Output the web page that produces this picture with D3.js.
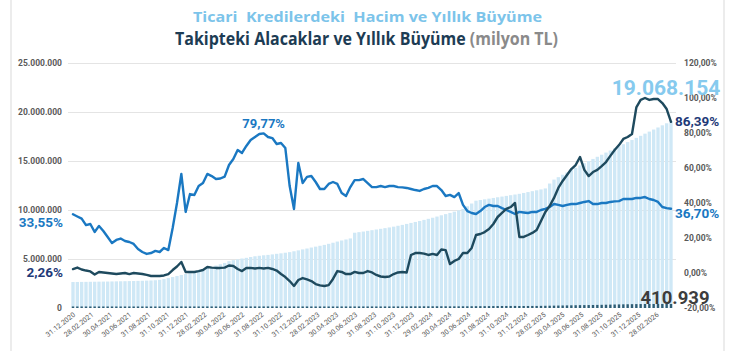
<!DOCTYPE html>
<html>
<head>
<meta charset="utf-8">
<script src="https://cdn.jsdelivr.net/npm/d3@7"></script>
<style>
  body { margin: 0; background: #fff; }
  svg { display: block; font-family: Roboto, "Liberation Sans", Arial, sans-serif; }
</style>
</head>
<body>
<svg id="chart" width="737" height="351"></svg>
<script>
// Bi-weekly observations, first one on 31.12.2020
const firstObservation = "31.12.2020";
const stepDays = 14;

// Ticari krediler hacmi (milyon TL)
const ticariHacim = [
  2650000,2655000,2662000,2668000,2675000,2680000,2688000,2694000,2700000,2710000,
  2718000,2726000,2735000,2745000,2756000,2768000,2780000,2795000,2812000,2835000,
  2870000,2950000,3050000,3160000,3270000,3370000,3480000,3600000,3720000,3840000,
  3960000,4080000,4200000,4330000,4460000,4600000,4780000,4880000,4960000,5050000,
  5120000,5200000,5280000,5330000,5380000,5420000,5470000,5530000,5580000,5640000,
  5700000,5790000,5880000,5980000,6070000,6170000,6260000,6350000,6440000,6550000,
  6660000,6780000,6890000,6990000,7100000,7680000,7740000,7800000,7870000,7940000,
  8010000,8080000,8150000,8220000,8300000,8390000,8480000,8580000,8680000,8780000,
  8880000,8990000,9100000,9210000,9330000,9460000,9580000,9700000,9830000,9960000,
  10100000,10380000,10660000,10950000,11020000,11090000,11160000,11230000,11300000,11370000,
  11440000,11510000,11580000,11650000,11740000,11830000,11920000,12010000,12100000,12200000,
  12700000,13100000,13350000,13600000,13830000,14070000,14300000,14540000,14770000,15000000,
  15210000,15430000,15640000,15860000,16070000,16290000,16500000,16710000,16930000,17140000,
  17360000,17570000,17790000,18000000,18210000,18420000,18640000,18850000,19068154
];

// Takipteki alacaklar (milyon TL)
const takipHacim = [
  158000,157500,157000,156800,156500,156000,156300,156500,156200,156000,
  155800,155600,155500,155700,155900,156000,155500,155000,154800,154600,
  154500,154700,155200,157000,160000,163000,
  157500,157800,158000,158500,159000,160500,160300,160000,160200,160500,
  161500,161800,161000,160500,161200,161500,161800,162000,162100,162200,
  162500,162000,161500,161000,160500,160000,
  159500,159000,158500,158000,157500,157000,156500,156000,156300,157500,
  159500,159800,159500,159200,159800,160000,160500,160300,159800,159500,
  159300,159500,160500,161500,162000,162500,
  172000,173500,174000,174500,175000,176000,177000,178000,178500,170000,
  171000,172500,175000,176500,180000,186000,188000,190000,192500,196000,
  201000,204000,207000,209000,211000,203000,
  204000,206000,208000,211000,219000,227000,233000,241000,250000,258000,
  266000,275000,284000,292000,297000,301000,308000,316000,325000,335000,
  346000,357000,367000,376000,383000,392000,
  398000,403000,407000,410000,412000,413000,412500,411800,410939
];

// Ticari kredilerde yıllık büyüme (%)
const ticariBuyume = [
  33.55,32.3,31.1,27.4,28.0,23.4,26.9,24.0,20.6,17.1,
  18.9,19.7,18.3,17.7,16.6,13.7,12.0,10.9,11.4,12.6,
  12.0,14.3,13.1,25.7,40.0,56.6,34.9,45.1,44.6,49.7,
  51.4,56.6,55.4,53.7,54.0,55.1,61.7,65.1,70.3,68.6,
  72.6,76.0,77.7,79.4,79.77,77.7,77.1,73.7,74.3,71.4,
  49.7,36.6,62.9,51.4,54.9,55.4,52.0,48.0,48.0,50.9,
  52.0,50.9,45.7,44.0,49.1,53.1,53.1,53.7,51.4,49.1,
  49.1,49.7,49.1,49.7,49.7,49.1,48.9,48.6,48.0,47.4,
  46.9,48.0,48.6,49.7,49.7,47.4,44.0,44.6,43.4,45.7,
  38.9,35.4,34.3,33.7,35.4,37.7,38.9,38.3,38.3,37.1,
  36.0,34.9,33.7,34.9,34.6,34.3,34.9,34.9,36.0,36.6,
  37.7,39.4,38.9,38.3,38.9,39.4,39.4,40.0,40.6,41.1,
  39.4,39.4,40.0,40.0,40.6,40.9,41.1,42.3,42.3,42.3,
  42.9,42.9,43.4,42.3,41.7,40.6,37.7,37.1,36.70
];

// Takipteki alacaklarda yıllık büyüme (%)
const takipBuyume = [
  2.26,3.1,2.0,1.4,0.9,-0.9,0.6,0.3,0.0,-0.3,
  -0.6,-0.3,0.0,-0.6,0.0,-0.3,-0.6,-1.1,-1.7,-1.7,
  -1.7,-1.4,-0.6,1.7,3.7,6.3,0.6,0.6,0.6,1.1,
  1.7,3.4,3.1,2.9,2.9,3.1,4.3,4.0,2.3,1.1,
  2.9,2.9,2.6,2.9,2.6,2.9,2.3,1.4,-0.6,-2.3,
  -4.6,-7.4,-4.0,-2.9,-3.7,-4.6,-6.3,-7.1,-7.4,-6.9,
  -3.4,1.1,0.6,-0.6,-0.6,0.6,0.0,0.0,1.1,0.3,
  -1.1,-2.0,-2.3,-2.0,-0.6,0.3,0.6,0.3,10.3,11.4,
  11.4,11.1,10.3,10.9,10.3,13.4,13.1,5.1,6.9,8.0,
  11.4,11.4,14.3,21.7,22.3,23.4,25.1,28.0,32.0,34.3,
  36.6,37.7,40.0,20.6,20.6,21.7,22.9,24.6,29.7,34.9,
  38.3,42.9,48.6,52.6,56.0,59.4,61.7,66.3,58.9,55.4,
  57.7,58.9,61.1,63.4,66.9,70.3,73.1,76.6,77.7,79.4,
  94.6,98.9,100.0,98.9,99.4,99.4,97.1,93.7,86.39
];

const xTickLabels = [
  "31.12.2020","28.02.2021","30.04.2021","30.06.2021","31.08.2021","31.10.2021",
  "31.12.2021","28.02.2022","30.04.2022","30.06.2022","31.08.2022","31.10.2022",
  "31.12.2022","28.02.2023","30.04.2023","30.06.2023","31.08.2023","31.10.2023",
  "31.12.2023","29.02.2024","30.04.2024","30.06.2024","31.08.2024","31.10.2024",
  "31.12.2024","28.02.2025","30.04.2025","30.06.2025","31.08.2025","31.10.2025",
  "31.12.2025","28.02.2026"
];
const leftTicks = [0, 5000000, 10000000, 15000000, 20000000, 25000000];
const rightTicks = [-20, 0, 20, 40, 60, 80, 100, 120];

const titleLine1 = "Ticari  Kredilerdeki  Hacim ve Yıllık Büyüme";
const titleLine2 = "Takipteki Alacaklar ve Yıllık Büyüme";
const titleUnit = " (milyon TL)";

const C = {
  bar: "#cfe8f6",
  npl: "#2f5d74",
  growth: "#1a78c2",
  nplLine: "#1e4a5e",
  navy: "#1f3a78",
  light: "#86caee",
  axis: "#595959",
  grid: "#e4e4e4"
};

const tr = d3.formatLocale({ decimal: ",", thousands: ".", grouping: [3], currency: ["", ""], minus: "-" });
const fmtInt = tr.format(",.0f");
const fmtPct = v => tr.format(".2f")(v) + "%";

const svg = d3.select("#chart");
const parseDMY = d3.timeParse("%d.%m.%Y");
const t0 = parseDMY(firstObservation);
const dates = ticariHacim.map((_, i) => d3.timeDay.offset(t0, i * stepDays));

const x = d3.scaleTime().domain([dates[0], dates[dates.length - 1]]).range([73, 671]);
const yL = d3.scaleLinear().domain([0, 25000000]).range([308, 63]);
const yR = d3.scaleLinear().domain([-20, 120]).range([308, 63]);
const step = x(dates[1]) - x(dates[0]);

// frame lines
svg.append("g").selectAll("line").data([11, 724]).join("line")
  .attr("x1", d => d).attr("x2", d => d).attr("y1", 0).attr("y2", 351)
  .attr("stroke", "#d9d9d9").attr("stroke-width", 1);

// titles
svg.append("text").attr("x", 367.5).attr("y", 22).attr("text-anchor", "middle")
  .attr("font-family", "'Open Sans', sans-serif").attr("font-weight", 700).attr("font-size", 15)
  .attr("fill", "#7cc4ea").attr("textLength", 349).attr("lengthAdjust", "spacingAndGlyphs")
  .style("white-space", "pre").text(titleLine1);
const t2 = svg.append("text").attr("x", 366.5).attr("y", 45).attr("text-anchor", "middle")
  .attr("font-family", "'Open Sans', sans-serif").attr("font-weight", 700).attr("font-size", 17)
  .attr("textLength", 383).attr("lengthAdjust", "spacingAndGlyphs");
t2.append("tspan").attr("fill", "#1d3c54").text(titleLine2);
t2.append("tspan").attr("fill", "#8a8a8a").text(titleUnit);

// gridlines
svg.append("g").selectAll("line").data(leftTicks.filter(d => d > 0)).join("line")
  .attr("x1", 68).attr("x2", 676)
  .attr("y1", d => Math.round(yL(d)) + 0.5).attr("y2", d => Math.round(yL(d)) + 0.5)
  .attr("stroke", C.grid).attr("stroke-width", 1);

// commercial loan volume bars
svg.append("g").selectAll("rect").data(ticariHacim).join("rect")
  .attr("x", (d, i) => x(dates[i]) - step / 2 + 0.5)
  .attr("width", step - 1)
  .attr("y", d => yL(d))
  .attr("height", d => yL(0) - yL(d))
  .attr("fill", C.bar);

// non-performing loan volume bars
svg.append("g").selectAll("rect").data(takipHacim).join("rect")
  .attr("x", (d, i) => x(dates[i]) - step / 2 + 1)
  .attr("width", step - 2)
  .attr("y", d => yL(d))
  .attr("height", d => yL(0) - yL(d))
  .attr("fill", C.npl);

// axes
const leftAxis = svg.append("g").attr("transform", "translate(70,0)")
  .call(d3.axisLeft(yL).tickValues(leftTicks).tickFormat(fmtInt).tickSize(0).tickPadding(8));
const rightAxis = svg.append("g").attr("transform", "translate(676,0)")
  .call(d3.axisRight(yR).tickValues(rightTicks).tickFormat(fmtPct).tickSize(0).tickPadding(8));
[leftAxis, rightAxis].forEach(g => {
  g.select(".domain").remove();
  g.selectAll("text").attr("fill", C.axis).attr("font-size", 8.5).attr("font-weight", 700)
    .attr("font-family", "Roboto, sans-serif");
});

const xTickDates = xTickLabels.map(parseDMY);
const bottomAxis = svg.append("g").attr("transform", "translate(0,312)")
  .call(d3.axisBottom(x).tickValues(xTickDates).tickFormat(d3.timeFormat("%d.%m.%Y")).tickSize(0).tickPadding(0));
bottomAxis.select(".domain").remove();
bottomAxis.selectAll("text")
  .attr("fill", C.axis).attr("font-size", 7).attr("font-family", "Roboto, sans-serif")
  .attr("text-anchor", "end").attr("dy", "0.3em").attr("y", 0)
  .attr("transform", "translate(1,2) rotate(-38)");

// growth lines
const line = d3.line().x((d, i) => x(dates[i])).y(d => yR(d)).curve(d3.curveLinear);
svg.append("path").datum(ticariBuyume).attr("d", line)
  .attr("fill", "none").attr("stroke", C.growth).attr("stroke-width", 2.4)
  .attr("stroke-linejoin", "round").attr("stroke-linecap", "round");
svg.append("path").datum(takipBuyume).attr("d", line)
  .attr("fill", "none").attr("stroke", C.nplLine).attr("stroke-width", 2.4)
  .attr("stroke-linejoin", "round").attr("stroke-linecap", "round");

// value labels
const last = ticariHacim.length - 1;
const lbl = (txt, px, py, anchor, size, color) =>
  svg.append("text").attr("x", px).attr("y", py).attr("text-anchor", anchor)
    .attr("font-size", size).attr("font-weight", 700).attr("fill", color)
    .attr("font-family", "Roboto, sans-serif").text(txt);

const peakIdx = d3.maxIndex(ticariBuyume);
lbl(fmtPct(ticariBuyume[peakIdx]), x(dates[peakIdx]), yR(ticariBuyume[peakIdx]) - 5, "middle", 13, C.growth);
lbl(fmtPct(ticariBuyume[0]), 63, yR(ticariBuyume[0]) + 13, "end", 13.5, C.growth);
lbl(fmtPct(takipBuyume[0]), 63, yR(takipBuyume[0]) + 8, "end", 13.5, C.navy);
lbl(fmtPct(ticariBuyume[last]), 675, yR(ticariBuyume[last]) + 9, "start", 13.5, C.growth);
lbl(fmtPct(takipBuyume[last]), 675, yR(takipBuyume[last]) + 4.5, "start", 13.5, C.navy);
lbl(fmtInt(ticariHacim[last]), 666, yL(ticariHacim[last]) - 26, "middle", 21, C.light);
lbl(fmtInt(takipHacim[last]), 675, yL(takipHacim[last]) - 0, "middle", 18.5, "#3d3d3d");
</script>
</body>
</html>
